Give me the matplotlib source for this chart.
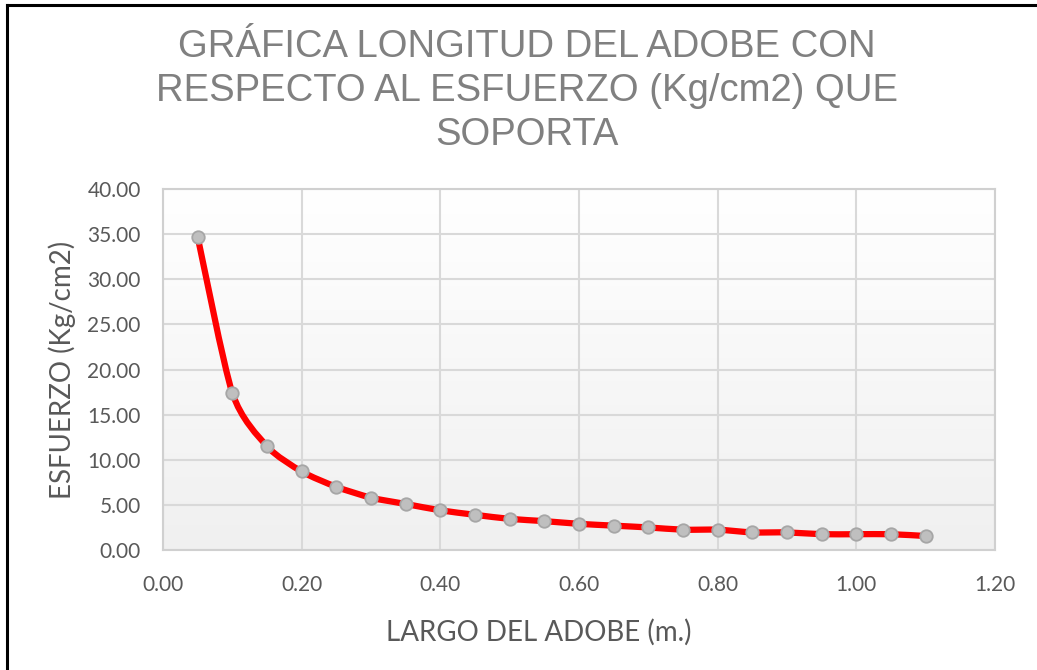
import numpy as np
import matplotlib; matplotlib.use("Agg"); import matplotlib.pyplot as plt
from matplotlib.path import Path
from matplotlib.patches import PathPatch
from matplotlib.lines import Line2D

# largo del adobe (m) vs esfuerzo (kg/cm2)
largo = [0.05, 0.10, 0.15, 0.20, 0.25, 0.30, 0.35, 0.40, 0.45, 0.50, 0.55,
         0.60, 0.65, 0.70, 0.75, 0.80, 0.85, 0.90, 0.95, 1.00, 1.05, 1.10]
esfuerzo = [34.7, 17.4, 11.5, 8.7, 7.0, 5.8, 5.1, 4.4, 3.9, 3.45, 3.2,
            2.9, 2.7, 2.5, 2.25, 2.25, 1.95, 1.95, 1.75, 1.75, 1.75, 1.55]
xticks = [0.0, 0.2, 0.4, 0.6, 0.8, 1.0, 1.2]
yticks = [0, 5, 10, 15, 20, 25, 30, 35, 40]

TXT = "#595959"
TITLE_FONT = ["Liberation Sans Narrow", "Liberation Sans", "DejaVu Sans"]
BODY_FONT = ["Lato", "DejaVu Sans"]

fig = plt.figure(figsize=(10.37, 6.70), dpi=100)
ax = fig.add_axes([163 / 1037, 120 / 670, 832 / 1037, 361 / 670])
ax.set_xlim(0, 1.2); ax.set_ylim(0, 40)

# soft vertical gradient like excel's plot area fill
grad = np.linspace(0, 1, 256).reshape(-1, 1)
ax.imshow(grad, extent=[0, 1, 0, 1], transform=ax.transAxes, aspect="auto",
          cmap=matplotlib.colors.LinearSegmentedColormap.from_list("g", ["#f0f0f0", "#ffffff"]),
          origin="lower", zorder=0)

ax.set_xticks(xticks); ax.set_yticks(yticks)
ax.set_xticklabels([f"{v:.2f}" for v in xticks])
ax.set_yticklabels([f"{v:.2f}" for v in yticks])
ax.grid(True, color="#d9d9d9", lw=1.5, zorder=1)
for s in ax.spines.values():
    s.set_color("#d0d0d0"); s.set_linewidth(1.5)
ax.tick_params(length=0, colors=TXT, labelsize=15)
ax.tick_params(axis="y", pad=16)
ax.tick_params(axis="x", pad=18)
for lab in ax.get_xticklabels() + ax.get_yticklabels():
    lab.set_family(BODY_FONT)

# excel-style smoothed line: catmull-rom segments as cubic beziers
pts = np.column_stack([largo, esfuerzo])
verts, codes = [pts[0]], [Path.MOVETO]
for i in range(len(pts) - 1):
    p0 = pts[max(i - 1, 0)]; p1 = pts[i]; p2 = pts[i + 1]; p3 = pts[min(i + 2, len(pts) - 1)]
    verts += [p1 + (p2 - p0) / 8, p2 - (p3 - p1) / 8, p2]
    codes += [Path.CURVE4] * 3
ax.add_patch(PathPatch(Path(verts, codes), fill=False, edgecolor="#ff0000", lw=4.5,
                       capstyle="round", joinstyle="round", zorder=3))
ax.plot(largo, esfuerzo, ls="none", marker="o", ms=9, mfc="#bfbfbf", mec="#a6a6a6",
        mew=1.3, zorder=4)

fig.text(539 / 1037, 1 - 632 / 670, "LARGO DEL ADOBE (m.)", fontsize=20, color=TXT,
         family=BODY_FONT, ha="center", va="center")
fig.text(62 / 1037, 1 - 370 / 670, "ESFUERZO (Kg/cm2)", fontsize=20, color=TXT,
         family=BODY_FONT, ha="center", va="center", rotation=90)

fig.text(527 / 1037, 1 - 91 / 670,
         "GRÁFICA LONGITUD DEL ADOBE CON\nRESPECTO AL ESFUERZO (Kg/cm2) QUE\nSOPORTA",
         ha="center", va="center", fontsize=27.5, color="#808080", family=TITLE_FONT,
         linespacing=1.3)

# black frame on top and left edges
fig.add_artist(Line2D([7 / 1037, 7 / 1037], [0, 1 - 5 / 670], color="black", lw=2.2))
fig.add_artist(Line2D([7 / 1037, 1], [1 - 5 / 670, 1 - 5 / 670], color="black", lw=2.2))

fig.savefig("out.png", dpi=100)
